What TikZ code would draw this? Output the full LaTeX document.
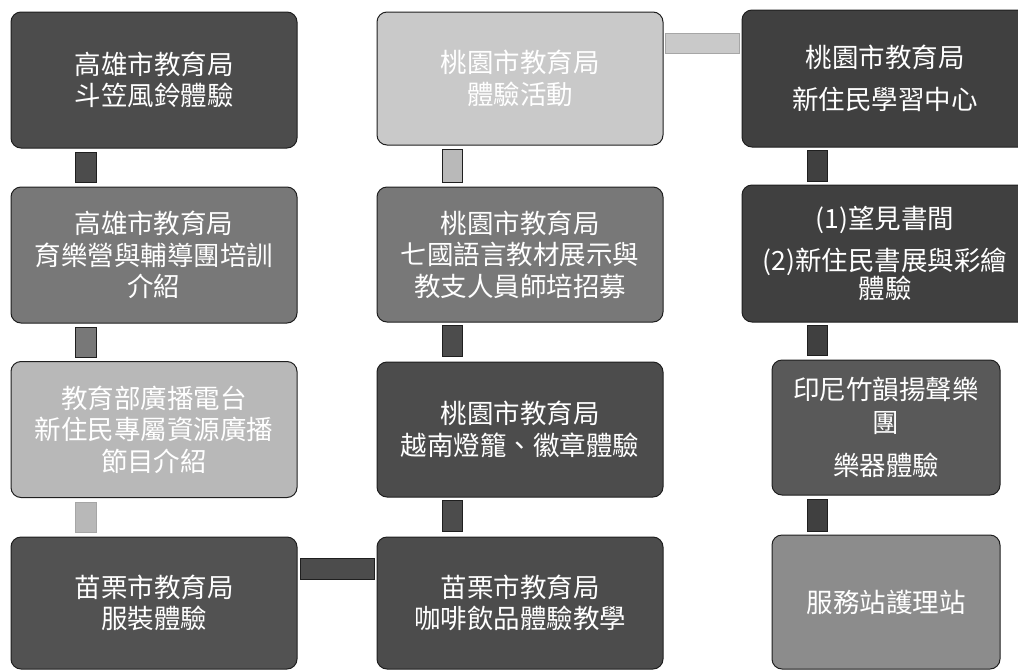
\documentclass[tikz,border=0pt]{standalone}
\usepackage{fontspec}
\newfontfamily\cjk{Noto Sans CJK TC}
\usetikzlibrary{calc}
\definecolor{gA}{gray}{0.30}
\definecolor{gB}{gray}{0.47}
\definecolor{gC}{gray}{0.72}
\definecolor{gD}{gray}{0.32}
\definecolor{gE}{gray}{0.79}
\definecolor{gF}{gray}{0.25}
\definecolor{gG}{gray}{0.35}
\definecolor{gH}{gray}{0.55}
\definecolor{edge}{gray}{0.12}
\tikzset{
  box/.style={rectangle, rounded corners=10pt, draw=edge, line width=1pt, text=white,
    align=center, inner sep=0pt, minimum width=286pt, minimum height=136pt,
    font=\cjk\fontsize{26.5}{31.5}\selectfont},
  narrowbox/.style={box, minimum width=228pt},
  bar/.style={draw=edge, line width=0.8pt},
}
\begin{document}
\begin{tikzpicture}[x=1pt,y=-1pt]
\useasboundingbox (0,0) rectangle (1018,670);
\clip (0,0) rectangle (1018,670);
% column 1
\node[box, fill=gA] (c1a) at (154,80) {高雄市教育局\\斗笠風鈴體驗};
\node[box, fill=gB] (c1b) at (154,255) {高雄市教育局\\育樂營與輔導團培訓\\介紹};
\node[box, fill=gC] (c1c) at (154,429.5) {教育部廣播電台\\新住民專屬資源廣播\\節目介紹};
\node[box, fill=gD, minimum height=132pt] (c1d) at (154,603) {苗栗市教育局\\服裝體驗};
% column 2
\node[box, fill=gE, minimum height=133pt] (c2a) at (520,78.5) {桃園市教育局\\體驗活動};
\node[box, fill=gB, minimum height=135pt] (c2b) at (520,254.5) {桃園市教育局\\七國語言教材展示與\\教支人員師培招募};
\node[box, fill=gA, minimum height=135pt] (c2c) at (520,429.5) {桃園市教育局\\越南燈籠、徽章體驗};
\node[box, fill=gA, minimum height=132pt] (c2d) at (520,603) {苗栗市教育局\\咖啡飲品體驗教學};
% column 3
\node[box, fill=gF, minimum height=137pt] (c3a) at (885,78.5) {桃園市教育局\\[10pt]新住民學習中心};
\node[box, fill=gF, minimum height=137pt] (c3b) at (885,253.5) {(1)望見書間\\[10pt](2)新住民書展與彩繪\\[-3pt]體驗};
\node[narrowbox, fill=gG, minimum height=135pt] (c3c) at (886,427.5) {印尼竹韻揚聲樂\\[1pt]團\\[12pt]樂器體驗};
\node[narrowbox, fill=gH, minimum height=134pt] (c3d) at (886,602) {服務站護理站};
% connector axes
\coordinate (k1) at (85.5,0);
\coordinate (k2) at (452,0);
\coordinate (k3) at (817,0);
\coordinate (h1) at (0,43);
\coordinate (h2) at (0,568.5);
% vertical connectors
\draw[bar, fill=gA] ($(c1a.south -| k1)+(-10.5,4)$) rectangle ($(c1b.north -| k1)+(10.5,-4)$);
\draw[bar, fill=gB] ($(c1b.south -| k1)+(-10.5,4)$) rectangle ($(c1c.north -| k1)+(10.5,-4)$);
\draw[bar, fill=gC, draw=gray!70] ($(c1c.south -| k1)+(-10.5,4)$) rectangle ($(c1d.north -| k1)+(10.5,-4)$);
\draw[bar, fill=gray!55] ($(c2a.south -| k2)+(-10,4)$) rectangle ($(c2b.north -| k2)+(10,-4)$);
\draw[bar, fill=gA] ($(c2b.south -| k2)+(-10,3)$) rectangle ($(c2c.north -| k2)+(10,-5)$);
\draw[bar, fill=gA] ($(c2c.south -| k2)+(-10,3)$) rectangle ($(c2d.north -| k2)+(10,-5)$);
\draw[bar, fill=gF] ($(c3a.south -| k3)+(-10,3)$) rectangle ($(c3b.north -| k3)+(10,-3)$);
\draw[bar, fill=gF] ($(c3b.south -| k3)+(-10,3)$) rectangle ($(c3c.north -| k3)+(10,-4)$);
\draw[bar, fill=gF] ($(c3c.south -| k3)+(-10,4)$) rectangle ($(c3d.north -| k3)+(10,-3)$);
% horizontal connectors
\draw[bar, fill=gE, draw=gray!70] ($(c2a.east |- h1)+(2,-10)$) rectangle ($(c3a.west |- h1)+(-2,10)$);
\draw[bar, fill=gray!60!black] ($(c1d.east |- h2)+(3,-10.5)$) rectangle ($(c2d.west |- h2)+(-2,10.5)$);
\end{tikzpicture}
\end{document}
